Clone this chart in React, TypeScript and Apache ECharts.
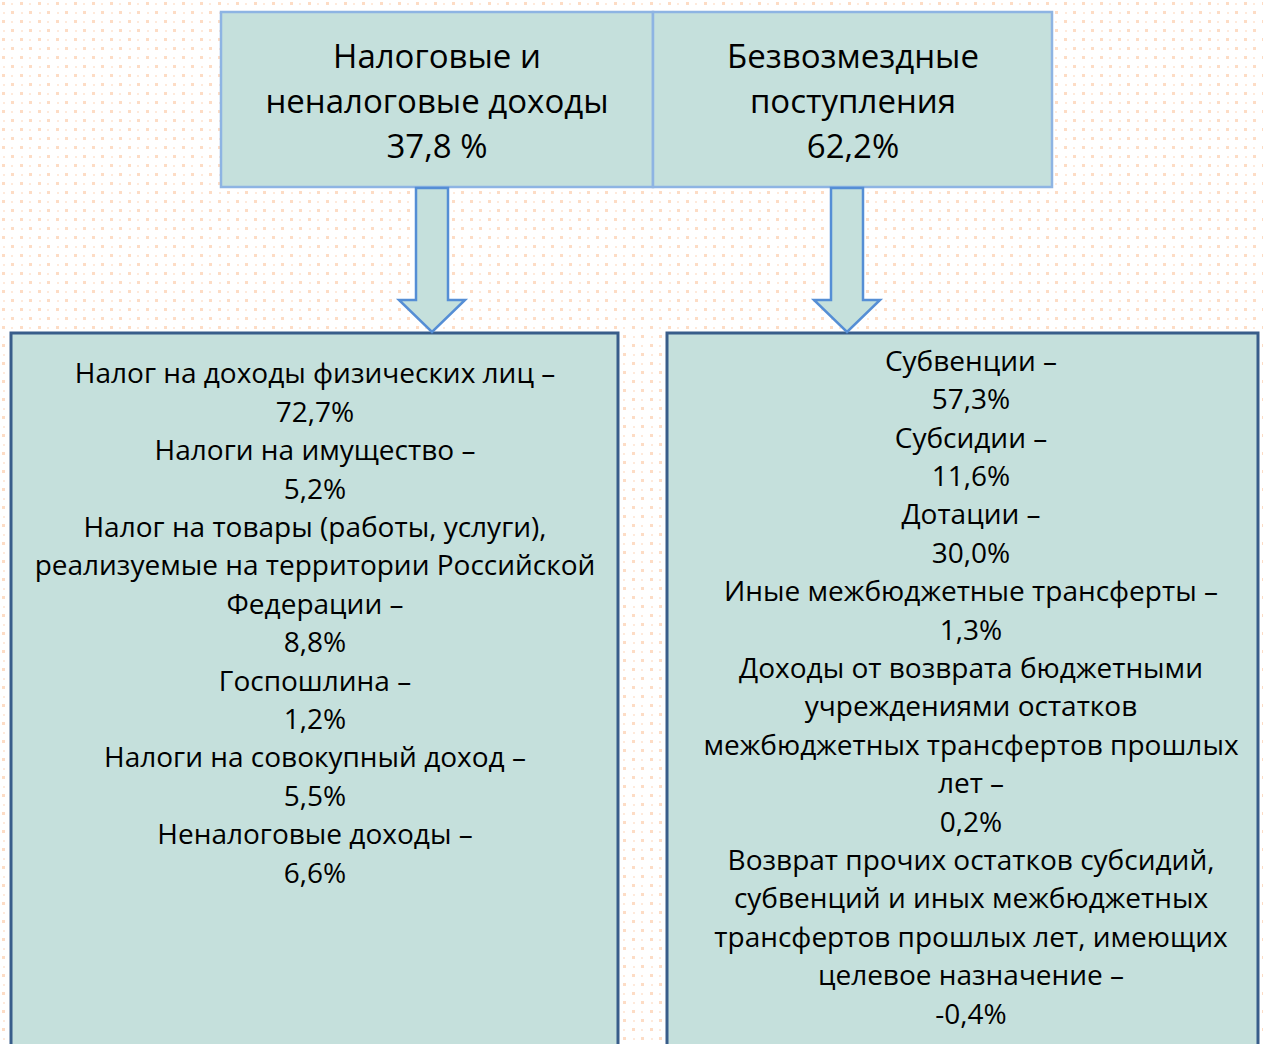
import React, { useEffect, useRef } from "react";
import * as echarts from "echarts";

const W = 1263;
const H = 1044;

const topTitles = ["Налоговые и\nненалоговые доходы", "Безвозмездные\nпоступления"];
const topValues = ["37,8 %", "62,2%"];

const leftLabels = [
  "Налог на доходы физических лиц –",
  "Налоги на имущество –",
  "Налог на товары (работы, услуги),\nреализуемые на территории Российской\nФедерации –",
  "Госпошлина –",
  "Налоги на совокупный доход –",
  "Неналоговые доходы –",
];
const leftValues = ["72,7%", "5,2%", "8,8%", "1,2%", "5,5%", "6,6%"];

const rightLabels = [
  "Субвенции –",
  "Субсидии –",
  "Дотации –",
  "Иные межбюджетные трансферты –",
  "Доходы от возврата бюджетными\nучреждениями остатков\nмежбюджетных трансфертов прошлых\nлет –",
  "Возврат прочих остатков субсидий,\nсубвенций и иных межбюджетных\nтрансфертов прошлых лет, имеющих\nцелевое назначение –",
];
const rightValues = ["57,3%", "11,6%", "30,0%", "1,3%", "0,2%", "-0,4%"];

const FONT = '"Open Sans", "Noto Sans", sans-serif';
const FILL = "#c5e0dc";

function makePattern(): string {
  const c = document.createElement("canvas");
  c.width = 18;
  c.height = 18;
  const ctx = c.getContext("2d")!;
  ctx.fillStyle = "#ffffff";
  ctx.fillRect(0, 0, 18, 18);
  ctx.fillStyle = "#fddcc5";
  ctx.fillRect(2, 2, 3, 3);
  ctx.fillRect(11, 11, 3, 3);
  ctx.fillStyle = "#feeadc";
  ctx.fillRect(11, 3, 2, 2);
  ctx.fillRect(3, 12, 2, 2);
  return c.toDataURL();
}

function joinItems(labels: string[], values: string[]): string {
  return labels.map((l, i) => l + "\n" + values[i]).join("\n");
}

export default function App() {
  const ref = useRef<HTMLDivElement>(null);
  useEffect(() => {
    if (!ref.current) return;
    const chart = echarts.init(ref.current, undefined, { renderer: "svg" });
    const pattern = makePattern();

    const arrow = (cx: number) => ({
      type: "polygon",
      shape: {
        points: [
          [cx - 16, 188],
          [cx + 16, 188],
          [cx + 16, 300],
          [cx + 33, 300],
          [cx, 332],
          [cx - 33, 300],
          [cx - 16, 300],
        ],
      },
      style: { fill: FILL, stroke: "#558ed5", lineWidth: 2.5 },
      z: 3,
    });

    const textEl = (x: number, y: number, text: string, size: number, lh: number) => ({
      type: "text",
      x,
      y,
      style: {
        text,
        font: `${size}px ${FONT}`,
        fill: "#000",
        align: "center",
        verticalAlign: "top",
        lineHeight: lh,
      },
      z: 5,
    });

    chart.setOption({
      animation: false,
      backgroundColor: "#ffffff",
      graphic: [
        {
          type: "rect",
          shape: { x: 0, y: 0, width: W, height: H },
          style: { fill: { image: pattern, repeat: "repeat" } as any },
          z: 0,
          silent: true,
        },
        {
          type: "rect",
          shape: { x: 221, y: 12, width: 432, height: 175 },
          style: { fill: FILL, stroke: "#8eb4e3", lineWidth: 2.5 },
          z: 2,
        },
        {
          type: "rect",
          shape: { x: 653, y: 12, width: 399, height: 175 },
          style: { fill: FILL, stroke: "#8eb4e3", lineWidth: 2.5 },
          z: 2,
        },
        arrow(432),
        arrow(847),
        {
          type: "rect",
          shape: { x: 11, y: 333, width: 607, height: 760 },
          style: { fill: FILL, stroke: "#385d8a", lineWidth: 3 },
          z: 2,
        },
        {
          type: "rect",
          shape: { x: 667, y: 333, width: 591, height: 760 },
          style: { fill: FILL, stroke: "#385d8a", lineWidth: 3 },
          z: 2,
        },
        textEl(437, 32.5, topTitles[0] + "\n" + topValues[0], 33, 45),
        textEl(853, 32.5, topTitles[1] + "\n" + topValues[1], 33, 45),
        textEl(315, 353.3, joinItems(leftLabels, leftValues), 28, 38.4),
        textEl(971, 340.5, joinItems(rightLabels, rightValues), 28, 38.4),
      ],
    });
    return () => chart.dispose();
  }, []);
  return (
    <div
      ref={ref}
      style={{ position: "fixed", left: 0, top: 0, width: W, height: H }}
    />
  );
}
